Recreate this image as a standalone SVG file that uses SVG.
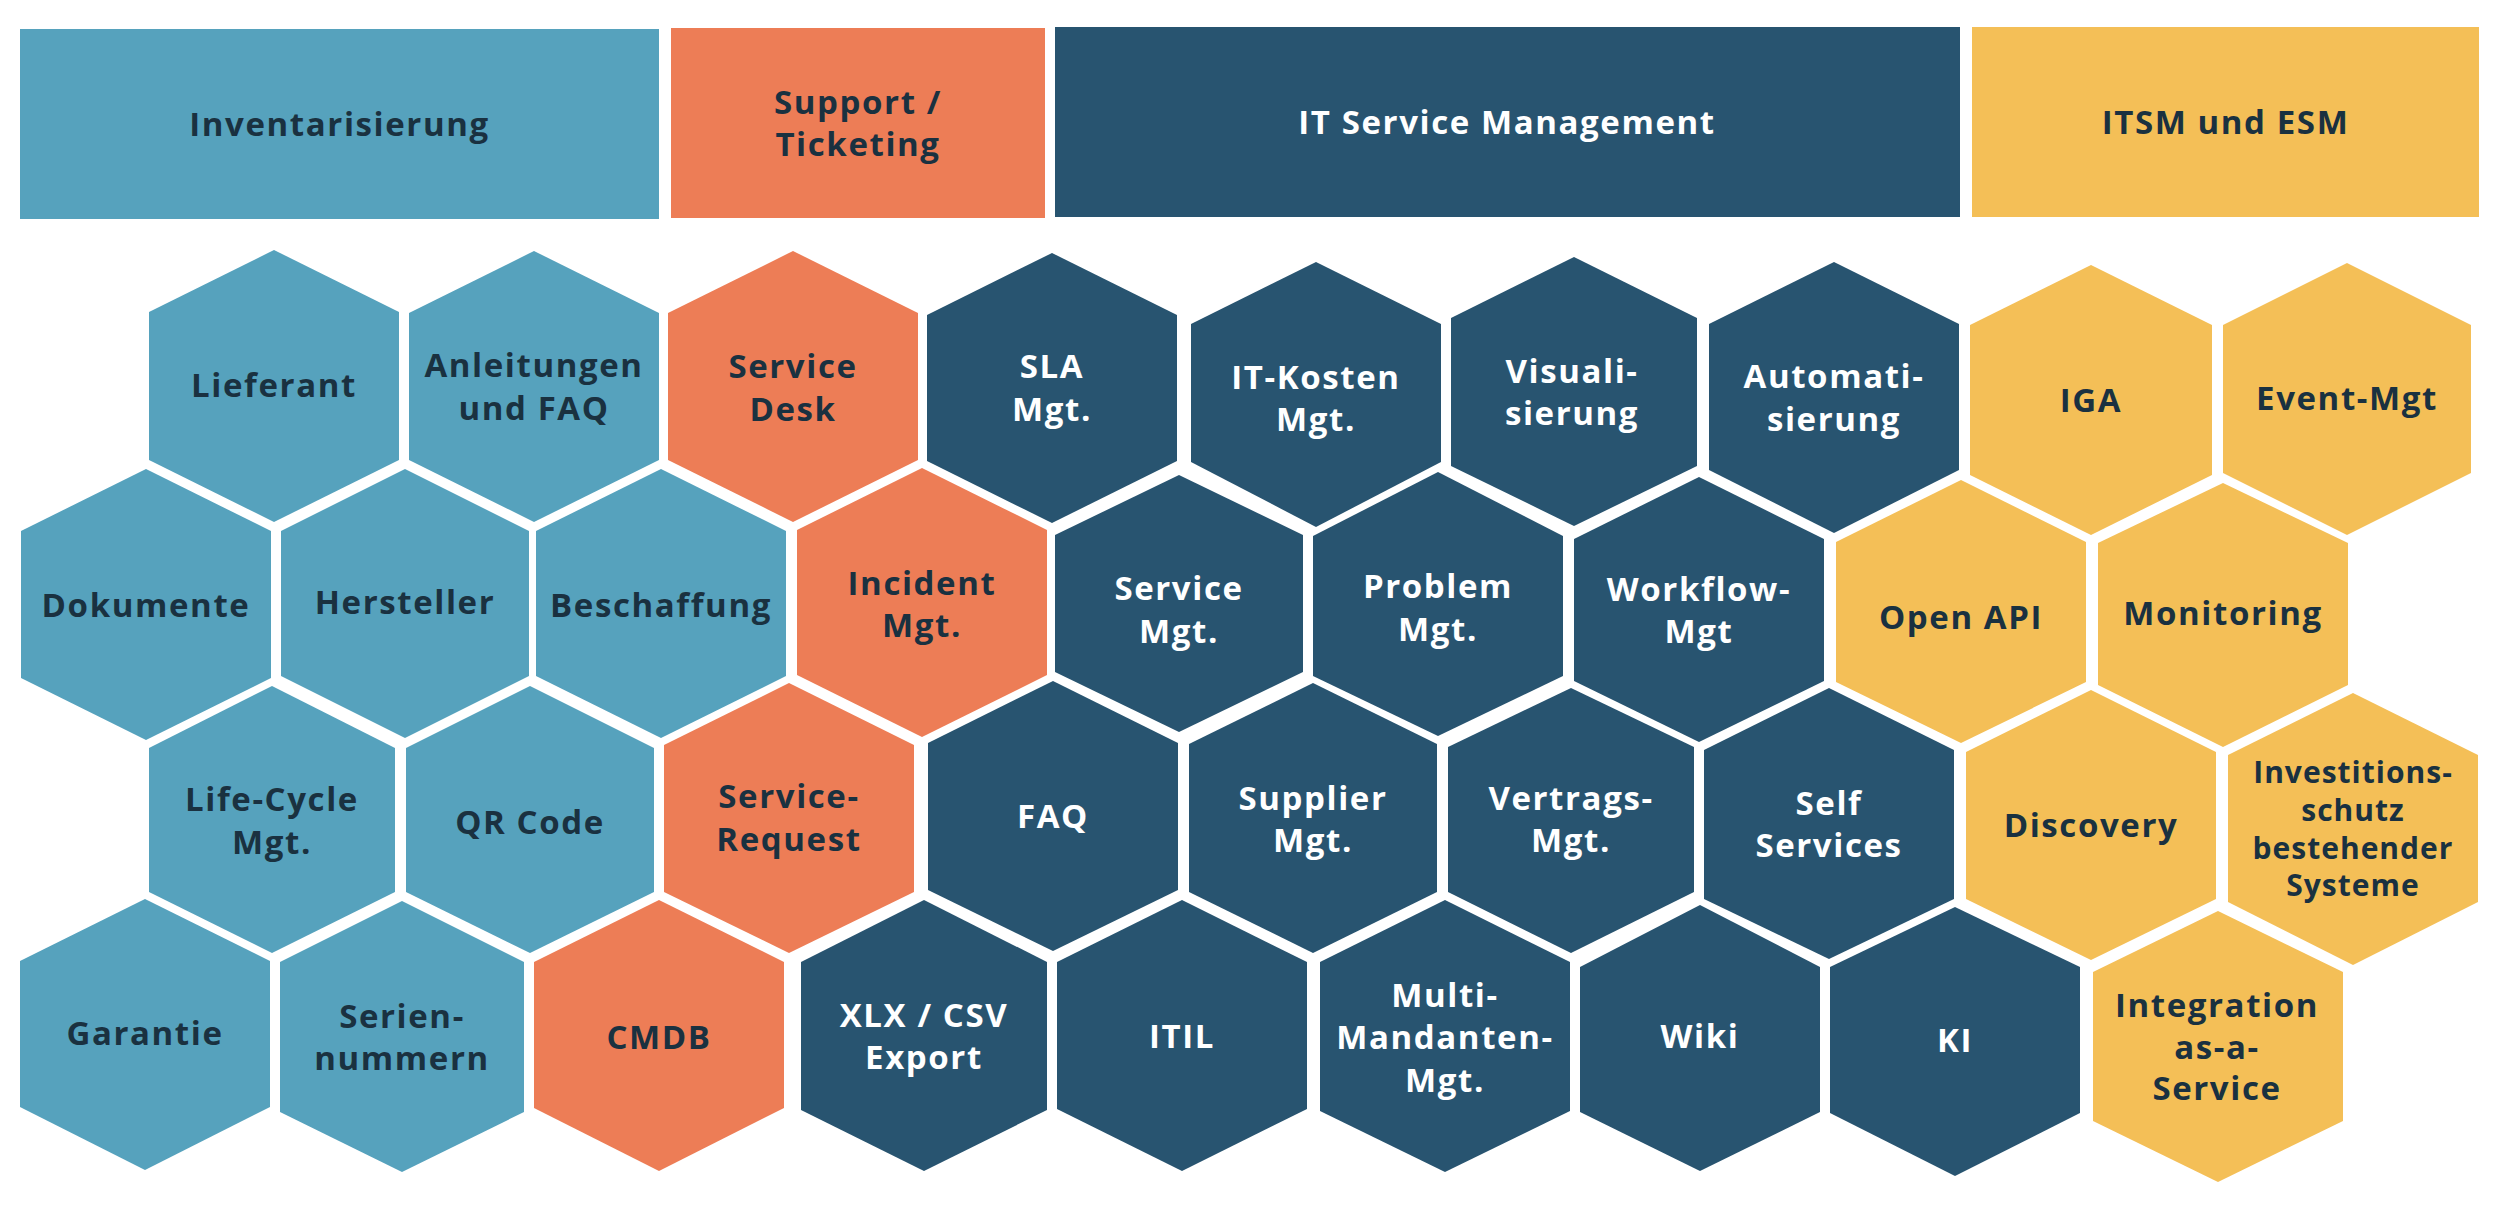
<svg xmlns="http://www.w3.org/2000/svg" width="2512" height="1210" viewBox="0 0 2512 1210">
<defs>
<style>
.blue{fill:#56A2BD}
.orange{fill:#ED7D56}
.navy{fill:#285470}
.yellow{fill:#F4BF57}
text{font-family:"Open Sans","Noto Sans","DejaVu Sans",sans-serif;font-weight:700;font-size:33px;letter-spacing:1.6px;text-anchor:middle}
.dk{fill:#1A3140}
.wt{fill:#FFFFFF}
.sm{font-size:30px;letter-spacing:1px}
</style>
</defs>
<rect width="2512" height="1210" fill="#FFFFFF"/>
<g id="headers">
<g id="h-inventarisierung"><rect class="blue" x="20" y="29" width="639" height="190"/><text class="dk" x="339.5" y="136">Inventarisierung</text></g>
<g id="h-support"><rect class="orange" x="671" y="28" width="374" height="190"/><text class="dk"><tspan x="858" y="113.5">Support /</tspan><tspan x="858" y="155.5">Ticketing</tspan></text></g>
<g id="h-itsm"><rect class="navy" x="1055" y="27" width="905" height="190"/><text class="wt" x="1507" y="133.5">IT Service Management</text></g>
<g id="h-esm"><rect class="yellow" x="1972" y="27" width="507" height="190"/><text class="dk" x="2225.5" y="133.5">ITSM und ESM</text></g>
</g>
<g id="connectors"/>
<g id="hexagons">
<g id="lieferant"><polygon class="blue" points="274,250 399,312 399,460 274,522 149,460 149,312"/><text class="dk" x="274" y="397">Lieferant</text></g>
<g id="anleitungen"><polygon class="blue" points="534,251 659,313 659,460 534,522 409,460 409,313"/><text class="dk"><tspan x="534" y="377.3">Anleitungen</tspan><tspan x="534" y="420.3">und FAQ</tspan></text></g>
<g id="service-desk"><polygon class="orange" points="793,251 918,313 918,460 793,522 668,460 668,313"/><text class="dk"><tspan x="793" y="377.8">Service</tspan><tspan x="793" y="420.8">Desk</tspan></text></g>
<g id="sla-mgt"><polygon class="navy" points="1052,253 1177,315 1177,461 1052,523 927,461 927,315"/><text class="wt"><tspan x="1052" y="378">SLA</tspan><tspan x="1052" y="421">Mgt.</tspan></text></g>
<g id="it-kosten"><polygon class="navy" points="1316,262 1441,324 1441,462 1316,527 1191,462 1191,324"/><text class="wt"><tspan x="1316" y="389">IT-Kosten</tspan><tspan x="1316" y="431">Mgt.</tspan></text></g>
<g id="visualisierung"><polygon class="navy" points="1574,257 1697,318 1697,466 1574,526 1451,466 1451,318"/><text class="wt"><tspan x="1572" y="383">Visuali-</tspan><tspan x="1572" y="425">sierung</tspan></text></g>
<g id="automatisierung"><polygon class="navy" points="1834,262 1959,324 1959,470 1834,533 1709,470 1709,324"/><text class="wt"><tspan x="1834" y="388">Automati-</tspan><tspan x="1834" y="430.5">sierung</tspan></text></g>
<g id="iga"><polygon class="yellow" points="2091,265 2212,325 2212,475 2091,535 1970,475 1970,325"/><text class="dk" x="2091" y="411.8">IGA</text></g>
<g id="event-mgt"><polygon class="yellow" points="2347,263 2471,325 2471,473 2347,535 2223,473 2223,325"/><text class="dk" x="2347" y="410">Event-Mgt</text></g>

<g id="dokumente"><polygon class="blue" points="146,469 271,531 271,678 146,740 21,678 21,531"/><text class="dk" x="146" y="616.5">Dokumente</text></g>
<g id="hersteller"><polygon class="blue" points="405,469 529,531 529,676 405,738 281,676 281,531"/><text class="dk" x="405" y="614">Hersteller</text></g>
<g id="beschaffung"><polygon class="blue" points="661,469 786,531 786,676 661,738 536,676 536,531"/><text class="dk" x="661" y="617">Beschaffung</text></g>
<g id="incident-mgt"><polygon class="orange" points="922,468 1047,530 1047,675 922,737 797,675 797,530"/><text class="dk"><tspan x="922" y="594.5">Incident</tspan><tspan x="922" y="637">Mgt.</tspan></text></g>
<g id="service-mgt"><polygon class="navy" points="1179,475 1303,535 1303,672 1179,732 1055,672 1055,535"/><text class="wt"><tspan x="1179" y="600.3">Service</tspan><tspan x="1179" y="643.3">Mgt.</tspan></text></g>
<g id="problem-mgt"><polygon class="navy" points="1438,472 1563,536 1563,676 1438,736 1313,676 1313,536"/><text class="wt"><tspan x="1438" y="598">Problem</tspan><tspan x="1438" y="640.8">Mgt.</tspan></text></g>
<g id="workflow-mgt"><polygon class="navy" points="1699,477 1824,539 1824,681 1699,742 1574,681 1574,539"/><text class="wt"><tspan x="1699" y="601">Workflow-</tspan><tspan x="1699" y="643.3">Mgt</tspan></text></g>
<g id="open-api"><polygon class="yellow" points="1961,480 2086,542 2086,682 1961,743 1836,682 1836,542"/><text class="dk" x="1961" y="628.5">Open API</text></g>
<g id="monitoring"><polygon class="yellow" points="2223,483 2348,543 2348,685 2223,747 2098,685 2098,543"/><text class="dk" x="2223" y="624.5">Monitoring</text></g>

<g id="life-cycle-mgt"><polygon class="blue" points="272,686 395,748 395,892 272,953 149,892 149,748"/><text class="dk"><tspan x="272" y="811.3">Life-Cycle</tspan><tspan x="272" y="853.5">Mgt.</tspan></text></g>
<g id="qr-code"><polygon class="blue" points="530,686 654,748 654,892 530,953 406,892 406,748"/><text class="dk" x="530" y="833.5">QR Code</text></g>
<g id="service-request"><polygon class="orange" points="789,683 914,745 914,892 789,953 664,892 664,745"/><text class="dk"><tspan x="789" y="808.3">Service-</tspan><tspan x="789" y="851.3">Request</tspan></text></g>
<g id="faq"><polygon class="navy" points="1053,681 1178,743 1178,890 1053,951 928,890 928,743"/><text class="wt" x="1053" y="827.5">FAQ</text></g>
<g id="supplier-mgt"><polygon class="navy" points="1313,683 1437,744 1437,892 1313,953 1189,892 1189,744"/><text class="wt"><tspan x="1313" y="809.5">Supplier</tspan><tspan x="1313" y="852">Mgt.</tspan></text></g>
<g id="vertrags-mgt"><polygon class="navy" points="1571,688 1694,747 1694,892 1571,953 1448,892 1448,747"/><text class="wt"><tspan x="1571" y="809.5">Vertrags-</tspan><tspan x="1571" y="852">Mgt.</tspan></text></g>
<g id="self-services"><polygon class="navy" points="1829,688 1954,750 1954,899 1829,959 1704,899 1704,750"/><text class="wt"><tspan x="1829" y="814.5">Self</tspan><tspan x="1829" y="857">Services</tspan></text></g>
<g id="discovery"><polygon class="yellow" points="2091,690 2216,752 2216,899 2091,960 1966,899 1966,752"/><text class="dk" x="2091" y="836.8">Discovery</text></g>
<g id="investitionsschutz"><polygon class="yellow" points="2353,693 2478,755 2478,902 2353,965 2228,902 2228,755"/><text class="dk sm"><tspan x="2353" y="783">Investitions-</tspan><tspan x="2353" y="821">schutz</tspan><tspan x="2353" y="859">bestehender</tspan><tspan x="2353" y="896">Systeme</tspan></text></g>

<g id="garantie"><polygon class="blue" points="145,899 270,961 270,1107 145,1170 20,1107 20,961"/><text class="dk" x="145" y="1045">Garantie</text></g>
<g id="seriennummern"><polygon class="blue" points="402,901 524,962 524,1112 402,1172 280,1112 280,962"/><text class="dk"><tspan x="402" y="1027.5">Serien-</tspan><tspan x="402" y="1070">nummern</tspan></text></g>
<g id="cmdb"><polygon class="orange" points="659,900 784,962 784,1108 659,1171 534,1108 534,962"/><text class="dk" x="659" y="1048.5">CMDB</text></g>
<g id="xlx-csv-export"><polygon class="navy" points="924,900 1047,962 1047,1110 924,1171 801,1110 801,962"/><text class="wt"><tspan x="924" y="1026.5">XLX / CSV</tspan><tspan x="924" y="1068.8">Export</tspan></text></g>
<g id="itil"><polygon class="navy" points="1182,900 1307,962 1307,1109 1182,1171 1057,1109 1057,962"/><text class="wt" x="1182" y="1048.4">ITIL</text></g>
<g id="multi-mandanten-mgt"><polygon class="navy" points="1445,900 1570,962 1570,1111 1445,1172 1320,1111 1320,962"/><text class="wt"><tspan x="1445" y="1006.6">Multi-</tspan><tspan x="1445" y="1048.5">Mandanten-</tspan><tspan x="1445" y="1091.6">Mgt.</tspan></text></g>
<g id="wiki"><polygon class="navy" points="1700,905 1820,967 1820,1112 1700,1171 1580,1112 1580,967"/><text class="wt" x="1700" y="1048.4">Wiki</text></g>
<g id="ki"><polygon class="navy" points="1955,907 2080,967 2080,1113 1955,1176 1830,1113 1830,967"/><text class="wt" x="1955" y="1051.7">KI</text></g>
<g id="integration"><polygon class="yellow" points="2218,911 2343,972 2343,1121 2218,1182 2093,1121 2093,972"/><text class="dk"><tspan x="2217" y="1016.7">Integration</tspan><tspan x="2217" y="1058.5">as-a-</tspan><tspan x="2217" y="1100">Service</tspan></text></g>
</g>
</svg>
